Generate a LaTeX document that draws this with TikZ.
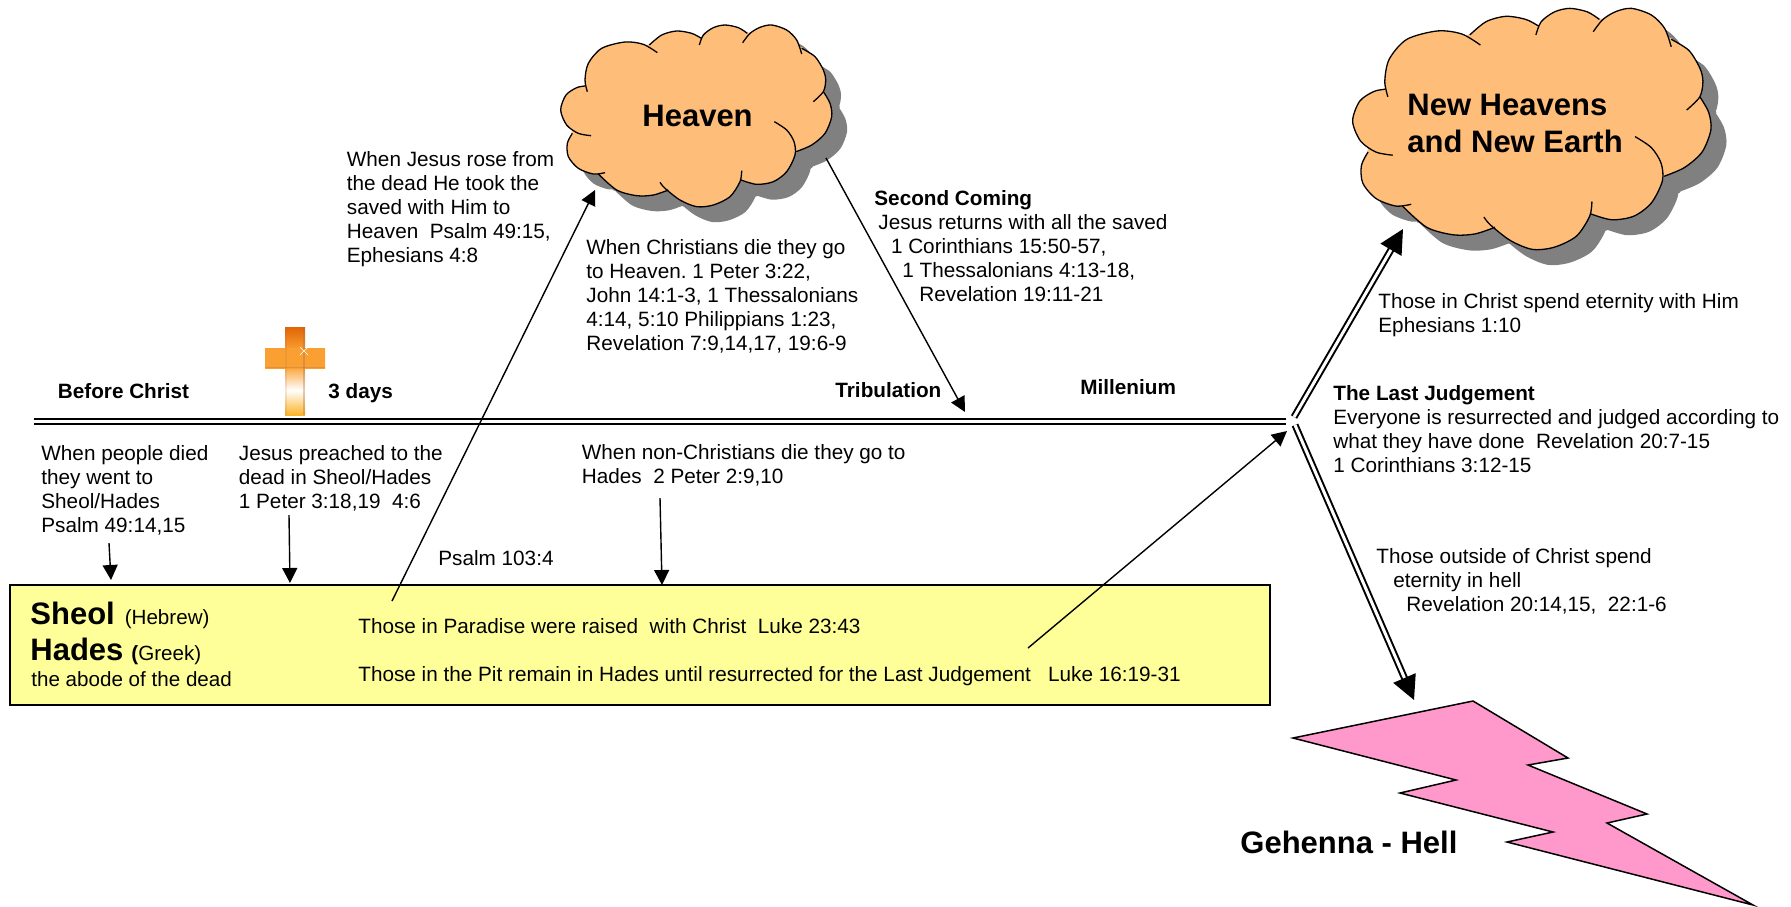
\documentclass[tikz,border=0pt]{standalone}
\usepackage{fontspec}
\setmainfont{Liberation Sans}
\usetikzlibrary{arrows.meta}
\frenchspacing
\definecolor{cloudfill}{RGB}{255,189,122}
\definecolor{boxfill}{RGB}{255,255,153}
\definecolor{boltfill}{RGB}{255,153,204}
\definecolor{crossdark}{RGB}{225,100,5}
\definecolor{crossmid}{RGB}{250,160,50}
\definecolor{crosslight}{RGB}{255,210,110}
\definecolor{crossedge}{RGB}{170,110,70}
\newcommand{\cloudlobes}[1]{
  \path[#1] plot[smooth] coordinates {(153,407)(115,400)(80,375)(62,330)(78,285)(110,263)(135,258)};
  \path[#1] plot[smooth] coordinates {(142,275)(135,240)(145,190)(185,145)(255,126)(310,133)(352,158)};
  \path[#1] plot[smooth] coordinates {(328,135)(365,105)(410,93)(455,100)(484,115)};
  \path[#1] plot[smooth] coordinates {(478,135)(490,105)(520,83)(555,75)(595,83)(622,100)};
  \path[#1] plot[smooth] coordinates {(608,128)(630,100)(660,82)(695,75)(740,90)(770,120)(785,162)};
  \path[#1] plot[smooth] coordinates {(785,145)(825,170)(850,210)(857,240)(850,275)(820,305)};
  \path[#1] plot[smooth] coordinates {(850,275)(870,310)(875,350)(855,400)(815,435)(768,455)};
  \path[#1] plot[smooth] coordinates {(703,365)(740,390)(762,425)(765,465)(740,515)(700,545)(650,553)(603,540)};
  \path[#1] plot[smooth] coordinates {(605,512)(600,545)(570,590)(520,615)(470,620)(420,600)(375,565)(360,547)};
  \path[#1] plot[smooth] coordinates {(385,570)(340,585)(290,587)(230,570)(175,522)};
  \path[#1] plot[smooth] coordinates {(195,518)(160,522)(115,505)(85,470)(82,430)(97,400)};
}
\newcommand{\cloudcore}[1]{
  \path[#1] (135,258) -- (328,135) -- (484,115) -- (622,100) -- (785,145) -- (850,275) -- (768,455)
    -- (603,540) -- (385,570) -- (175,522) -- (97,400) -- cycle;
}
\newcommand{\cloudshape}[1]{
  \begin{scope}[shift={(#1,#1)}]
    \cloudlobes{fill=gray}
    \cloudcore{fill=gray,draw=gray,line width=1pt}
  \end{scope}
  \cloudlobes{fill=cloudfill}
  \cloudcore{fill=cloudfill,draw=cloudfill,line width=1pt}
  \cloudlobes{draw,line width=0.65pt}
}
\begin{document}
\begin{tikzpicture}[x=0.5pt,y=-0.5pt,
  note/.style={anchor=north west,inner sep=0pt,align=left,font=\fontsize{10.36}{12}\selectfont},
  head/.style={note,font=\fontsize{10.36}{12}\selectfont\bfseries},
  big/.style={note,font=\fontsize{15.5}{18.4}\selectfont\bfseries},
  arrow/.style={line width=0.7pt,-{Triangle[length=7.5pt,width=7.5pt]}},
  rail/.style={line width=1pt,double,double distance=1.5pt},
  railarrow/.style={rail,-{Triangle[length=12pt,width=12pt]}}]
  \useasboundingbox (0,0) rectangle (1791,906);

  \begin{scope}[shift={(540,0)},x=0.16667pt,y=-0.16667pt]
    \cloudshape{46}
  \end{scope}
  \begin{scope}[shift={(1325.3,-24.8)},x=0.2203pt,y=-0.2211pt]
    \cloudshape{35}
  \end{scope}

  \draw[line width=0.75pt,fill=boltfill] (1293,738) -- (1473,701) -- (1568,758) -- (1528,765) -- (1647,814)
    -- (1607,823) -- (1753,905) -- (1507,842) -- (1553,832) -- (1400,793) -- (1456,780) -- cycle;

  \coordinate (railstart) at (34,421);
  \coordinate (railend) at (1286,421);
  \draw[rail] (railstart) -- (railend);
  \fill[white] (38,414) rectangle (208,418);

  \shade[top color=crossdark,bottom color=crossmid] (285,327) rectangle (305,350);
  \shade[top color=crossmid,bottom color=white] (285,366) rectangle (305,390);
  \shade[top color=white,bottom color=crossmid!80!yellow] (285,390) rectangle (305,415);
  \shade[top color=crossmid,middle color=crosslight,bottom color=crossmid] (265,348) rectangle (325,368);
  \fill[crossedge,opacity=0.35] (303,327) rectangle (305,415);
  \fill[crossedge,opacity=0.15] (285,327) rectangle (286.5,415);
  \fill[crossedge,opacity=0.3] (265,366.5) rectangle (325,368);
  \draw[white,line width=0.3pt] (300,355) -- (308,347) (300,347) -- (308,355);

  \node[big] (heaven) at (642,105) {Heaven};
  \node[big] (newearth) at (1407,94) {New Heavens\\and New Earth};
  \node[big] (gehenna) at (1240,831) {Gehenna - Hell};

  \node[head] (before) at (57.5,383) {Before Christ};
  \node[head] (days) at (328,383) {3 days};
  \node[head] (tribulation) at (835,382) {Tribulation};
  \node[head] (millenium) at (1080,379) {Millenium};

  \node[note] (died) at (41,445) {When people died\\they went to\\Sheol/Hades\\Psalm 49:14,15};
  \node[note] (preached) at (238.5,445) {Jesus preached to the\\dead in Sheol/Hades\\1 Peter 3:18,19\ \ 4:6};
  \node[note] (nonchristians) at (581.5,444) {When non-Christians die they go to\\Hades\ \ 2 Peter 2:9,10};
  \node[note] (psalm) at (438,550) {Psalm 103:4};
  \node[note] (rose) at (346.5,151) {When Jesus rose from\\the dead He took the\\saved with Him to\\Heaven\ \ Psalm 49:15,\\Ephesians 4:8};
  \node[note] (christians) at (586,239) {When Christians die they go\\to Heaven. 1 Peter 3:22,\\John 14:1-3, 1 Thessalonians\\4:14, 5:10 Philippians 1:23,\\Revelation 7:9,14,17, 19:6-9};
  \node[head] (second) at (874,190) {Second Coming};
  \node[note] (returns) at (878,214.5) {Jesus returns with all the saved\\\hspace*{6.3pt}1 Corinthians 15:50-57,\\\hspace*{12pt}1 Thessalonians 4:13-18,\\\hspace*{20.5pt}Revelation 19:11-21};
  \node[note] (eternity) at (1378,293) {Those in Christ spend eternity with Him\\Ephesians 1:10};
  \node[head] (judgement) at (1333,385) {The Last Judgement};
  \node[note] (everyone) at (1333,409) {Everyone is resurrected and judged according to\\what they have done\ \ Revelation 20:7-15\\1 Corinthians 3:12-15};
  \node[note] (outside) at (1376,548) {Those outside of Christ spend\\\hspace*{8.5pt}eternity in hell\\\hspace*{15pt}Revelation 20:14,15,\ \ 22:1-6};

  \draw[line width=0.75pt,fill=boxfill] (10,585) rectangle (1270,705);
  \node[big] (sheol) at (30,602) {Sheol\hspace{5pt}\fontsize{10.3}{12}\selectfont\mdseries (Hebrew)};
  \node[big] (hades) at (30,638) {Hades\hspace{4pt}\fontsize{10.3}{12}\selectfont (\mdseries Greek)};
  \node[note,font=\fontsize{10.3}{12}\selectfont] (abode) at (31,671) {the abode of the dead};
  \node[note] (paradise) at (358,618) {Those in Paradise were raised\ \ with Christ\ \ Luke 23:43};
  \node[note] (pit) at (358,666) {Those in the Pit remain in Hades until resurrected for the Last Judgement\ \ \ Luke 16:19-31};

  \coordinate (a1) at (109,543);
  \coordinate (b1) at (111,580);
  \coordinate (a2) at (289,515);
  \coordinate (b2) at (290,583);
  \coordinate (a3) at (660,498);
  \coordinate (b3) at (662,585);
  \coordinate (a4) at (392,601);
  \coordinate (b4) at (595,190);
  \coordinate (a5) at (826,158);
  \coordinate (b5) at (965,412);
  \coordinate (a6) at (1028,648);
  \coordinate (b6) at (1287,431);
  \draw[arrow] (a1) -- (b1);
  \draw[arrow] (a2) -- (b2);
  \draw[arrow] (a3) -- (b3);
  \draw[arrow] (a4) -- (b4);
  \draw[arrow] (a5) -- (b5);
  \draw[arrow] (a6) -- (b6);

  \coordinate (upfrom) at (1294,417);
  \coordinate (upto) at (1403,229);
  \coordinate (downfrom) at (1295,425);
  \coordinate (downto) at (1414,700);
  \draw[railarrow] (upfrom) -- (upto);
  \draw[railarrow] (downfrom) -- (downto);
\end{tikzpicture}
\end{document}
